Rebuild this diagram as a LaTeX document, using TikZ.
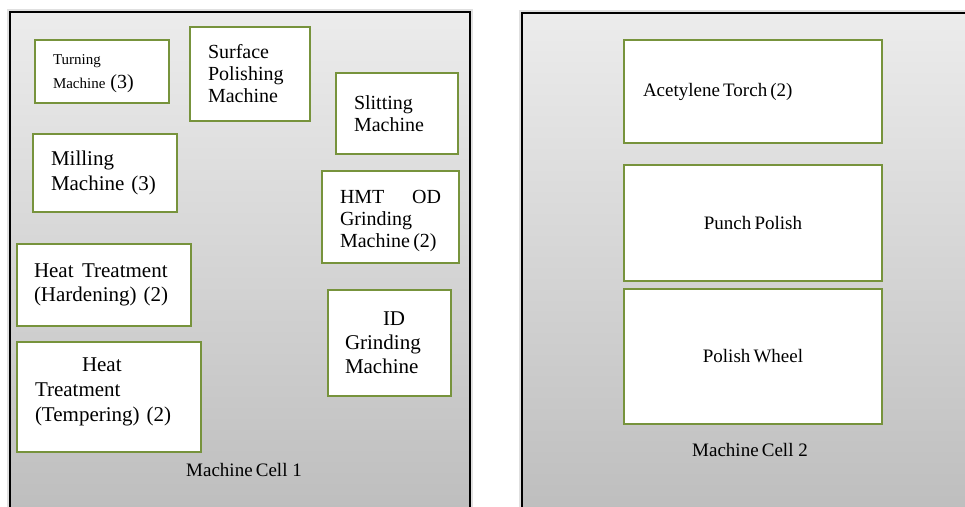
\documentclass[tikz,border=0pt]{standalone}
\usepackage{fontspec}
\setmainfont{Liberation Serif}
\hyphenpenalty=10000
\definecolor{boxgreen}{RGB}{119,147,60}
\definecolor{celltop}{RGB}{236,236,236}
\definecolor{cellbot}{RGB}{188,188,188}
\tikzset{
  cell/.style={draw=black, line width=2pt, top color=celltop, bottom color=cellbot,
    anchor=north west, outer sep=0pt, inner sep=0pt,
    preaction={draw=black, opacity=0.12, line width=6pt}},
  machine/.style={draw=boxgreen, line width=1.4pt, fill=white, inner xsep=18pt,
    inner ysep=0pt, outer sep=0pt, align=left, anchor=north west,
    font=\fontsize{20}{22}\selectfont},
  machinec/.style={machine, align=center},
  celllabel/.style={font=\fontsize{19}{22}\selectfont, inner sep=0pt}
}
\begin{document}
\begin{tikzpicture}[x=1pt, y=-1pt]
\useasboundingbox (0,0) rectangle (965,506);
\clip (0,0) rectangle (965,506);

% the two cells
\node[cell, minimum width=460pt, minimum height=520pt] (cell1) at (10,12) {};
\node[cell, minimum width=460pt, minimum height=520pt] (cell2) at (522,13) {};

% machines of cell 1
\node[machine, text width=98pt, minimum height=63pt, font=\fontsize{15}{24}\selectfont]
  (turn) at (35,40) {\rule{0pt}{15pt}Turning\\Machine {\fontsize{20}{24}\selectfont(3)}};
\node[machine, text width=84pt, minimum height=94pt]
  (surf) at (190,27) {Surface\\Polishing\\Machine};
\node[machine, text width=86pt, minimum height=81pt]
  (slit) at (336,73) {Slitting\\Machine};
\node[machine, text width=108pt, minimum height=78pt, font=\fontsize{21}{25}\selectfont]
  (mill) at (33,134) {Milling\\Machine (3)};
\node[machine, text width=101pt, minimum height=92pt]
  (hmt) at (322,171) {\rule{0pt}{22pt}HMT\hfill OD\\Grinding\\Machine\,(2)};
\node[machine, text width=140pt, inner xsep=17pt, minimum height=82pt, font=\fontsize{21}{24}\selectfont]
  (hard) at (17,244) {Heat\hspace{0.4em}Treatment\\(Hardening) (2)};
\node[machine, text width=148pt, minimum height=110pt, font=\fontsize{21}{25}\selectfont]
  (temp) at (17,342) {\hspace*{47pt}Heat\\Treatment\\(Tempering) (2)\rule[-14pt]{0pt}{14pt}};
\node[machine, inner xsep=17pt, text width=89pt, minimum height=106pt, font=\fontsize{21}{24}\selectfont]
  (idg) at (328,290) {\hspace*{38pt}ID\\Grinding\\Machine};
\node[celllabel] (lab1) at (244,470) {Machine\,Cell 1};

% machines of cell 2
\node[machine, inner xsep=19pt, text width=220pt, minimum height=103pt, font=\fontsize{19}{22}\selectfont]
  (torch) at (624,40) {Acetylene\,Torch\,(2)};
\node[machinec, text width=222pt, minimum height=116pt, font=\fontsize{19}{22}\selectfont]
  (punch) at (624,165) {Punch\,Polish};
\node[machinec, text width=222pt, minimum height=135pt, font=\fontsize{19}{22}\selectfont]
  (wheel) at (624,289) {Polish\,Wheel};
\node[celllabel] (lab2) at (750,450) {Machine\,Cell 2};
\end{tikzpicture}
\end{document}
